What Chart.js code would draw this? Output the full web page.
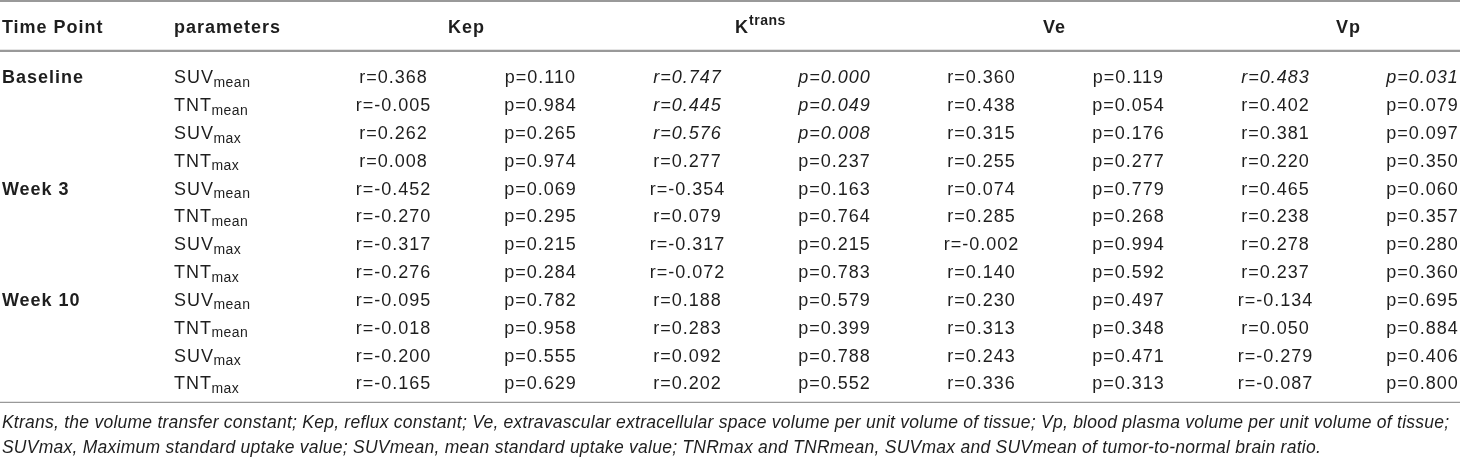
<!DOCTYPE html>
<html>
<head>
<meta charset="utf-8">
<script src="https://cdn.jsdelivr.net/npm/chart.js@4.4.1/dist/chart.umd.min.js"></script>
<style>
  html, body { margin: 0; padding: 0; background: #fff; }
</style>
</head>
<body>
<canvas id="tbl" width="1460" height="459"></canvas>
<script>
// table content
const timePoints = ['Baseline', 'Week 3', 'Week 10'];
const paramNames = ['SUV', 'TNT', 'SUV', 'TNT'];
const paramSubs = ['mean', 'mean', 'max', 'max'];
const groupNames = ['Kep', 'K', 'Ve', 'Vp'];
const groupSups = ['', 'trans', '', ''];

const kepR = [0.368, -0.005, 0.262, 0.008, -0.452, -0.270, -0.317, -0.276, -0.095, -0.018, -0.200, -0.165];
const kepP = [0.110, 0.984, 0.265, 0.974, 0.069, 0.295, 0.215, 0.284, 0.782, 0.958, 0.555, 0.629];
const ktransR = [0.747, 0.445, 0.576, 0.277, -0.354, 0.079, -0.317, -0.072, 0.188, 0.283, 0.092, 0.202];
const ktransP = [0.000, 0.049, 0.008, 0.237, 0.163, 0.764, 0.215, 0.783, 0.579, 0.399, 0.788, 0.552];
const veR = [0.360, 0.438, 0.315, 0.255, 0.074, 0.285, -0.002, 0.140, 0.230, 0.313, 0.243, 0.336];
const veP = [0.119, 0.054, 0.176, 0.277, 0.779, 0.268, 0.994, 0.592, 0.497, 0.348, 0.471, 0.313];
const vpR = [0.483, 0.402, 0.381, 0.220, 0.465, 0.238, 0.278, 0.237, -0.134, 0.050, -0.279, -0.087];
const vpP = [0.031, 0.079, 0.097, 0.350, 0.060, 0.357, 0.280, 0.360, 0.695, 0.884, 0.406, 0.800];

// rows printed in italics (significant)
const ktransItalic = [0, 1, 2];
const kepItalic = [];
const veItalic = [];
const vpItalic = [0];

const footnotes = [
  'Ktrans, the volume transfer constant; Kep, reflux constant; Ve, extravascular extracellular space volume per unit volume of tissue; Vp, blood plasma volume per unit volume of tissue;',
  'SUVmax, Maximum standard uptake value; SUVmean, mean standard uptake value; TNRmax and TNRmean, SUVmax and SUVmean of tumor-to-normal brain ratio.'
];

// layout in row / column units of the scales
const rowsPerTime = 4;
const headerRow = -1.83;
const topRule = -2.73, headRule = -0.94, bottomRule = 11.70;
const footRows = [12.41, 13.31];
const timeCol = -2.66, paramCol = -1.49;

const FONT = '"Liberation Sans", Arial, Helvetica, sans-serif';
const SIZE = 18, SUB = 14, FOOT = 17.5;
const SPACING = '1px', SUB_SPACING = '0.5px', FOOT_SPACING = '0.25px';
const INK = '#1e1e1e', RULE = '#999999';

const series = [
  { vals: kepR, pre: 'r=', ital: kepItalic },
  { vals: kepP, pre: 'p=', ital: kepItalic },
  { vals: ktransR, pre: 'r=', ital: ktransItalic },
  { vals: ktransP, pre: 'p=', ital: ktransItalic },
  { vals: veR, pre: 'r=', ital: veItalic },
  { vals: veP, pre: 'p=', ital: veItalic },
  { vals: vpR, pre: 'r=', ital: vpItalic },
  { vals: vpP, pre: 'p=', ital: vpItalic }
];

const datasets = series.map((s, col) => ({
  label: s.pre + col,
  data: s.vals.map((v, row) => ({ x: col, y: row })),
  pointRadius: 0,
  showLine: false
}));

function capY(y, size) { return y + size * 0.36; }

function setFont(ctx, style, size, spacing) {
  ctx.font = style + size + 'px ' + FONT;
  ctx.letterSpacing = spacing;
}

const tablePlugin = {
  id: 'tableText',
  afterDatasetsDraw(chart) {
    const ctx = chart.ctx;
    const xs = chart.scales.x, ys = chart.scales.y;
    const left = chart.chartArea.left, right = chart.chartArea.right;
    ctx.save();

    // rules
    ctx.strokeStyle = RULE;
    [[topRule, 2], [headRule, 2.2], [bottomRule, 1.2]].forEach(([r, w]) => {
      const y = ys.getPixelForValue(r);
      ctx.lineWidth = w;
      ctx.beginPath();
      ctx.moveTo(left, y);
      ctx.lineTo(right, y);
      ctx.stroke();
    });

    ctx.fillStyle = INK;
    ctx.textBaseline = 'alphabetic';

    // header
    const hy = capY(ys.getPixelForValue(headerRow), SIZE);
    setFont(ctx, 'bold ', SIZE, SPACING);
    ctx.textAlign = 'left';
    ctx.fillText('Time Point', xs.getPixelForValue(timeCol), hy);
    ctx.fillText('parameters', xs.getPixelForValue(paramCol), hy);
    groupNames.forEach((name, g) => {
      const cx = xs.getPixelForValue(2 * g + 0.5);
      setFont(ctx, 'bold ', SIZE, SPACING);
      const w1 = ctx.measureText(name).width;
      setFont(ctx, 'bold ', SUB, SUB_SPACING);
      const w2 = groupSups[g] ? ctx.measureText(groupSups[g]).width : 0;
      const x0 = cx - (w1 + w2) / 2;
      setFont(ctx, 'bold ', SIZE, SPACING);
      ctx.fillText(name, x0, hy);
      if (groupSups[g]) {
        setFont(ctx, 'bold ', SUB, SUB_SPACING);
        ctx.fillText(groupSups[g], x0 + w1, hy - 8);
      }
    });

    // time point and parameter columns
    for (let row = 0; row < timePoints.length * rowsPerTime; row++) {
      const y = capY(ys.getPixelForValue(row), SIZE);
      ctx.textAlign = 'left';
      if (row % rowsPerTime === 0) {
        setFont(ctx, 'bold ', SIZE, SPACING);
        ctx.fillText(timePoints[row / rowsPerTime], xs.getPixelForValue(timeCol), y);
      }
      const k = row % rowsPerTime;
      const px = xs.getPixelForValue(paramCol);
      setFont(ctx, '', SIZE, SPACING);
      ctx.fillText(paramNames[k], px, y);
      const w = ctx.measureText(paramNames[k]).width;
      setFont(ctx, '', SUB, SUB_SPACING);
      ctx.fillText(paramSubs[k], px + w - 0.5, y + 3.5);
    }

    // value cells, placed at the dataset elements
    ctx.textAlign = 'center';
    chart.data.datasets.forEach((ds, i) => {
      const s = series[i];
      chart.getDatasetMeta(i).data.forEach((el, row) => {
        setFont(ctx, s.ital.includes(row) ? 'italic ' : '', SIZE, SPACING);
        ctx.fillText(s.pre + s.vals[row].toFixed(3), el.x + 0.5, capY(el.y, SIZE));
      });
    });

    // footnotes
    ctx.textAlign = 'left';
    setFont(ctx, 'italic ', FOOT, FOOT_SPACING);
    footnotes.forEach((t, i) => {
      ctx.fillText(t, xs.getPixelForValue(timeCol), capY(ys.getPixelForValue(footRows[i]), FOOT));
    });
    ctx.restore();
  }
};

new Chart(document.getElementById('tbl'), {
  type: 'scatter',
  data: { datasets: datasets },
  options: {
    responsive: false,
    animation: false,
    layout: { padding: 0 },
    plugins: { legend: { display: false }, tooltip: { enabled: false } },
    scales: {
      x: { type: 'linear', min: -2.673, max: 7.259, display: false },
      y: { type: 'linear', min: -2.77, max: 13.74, reverse: true, display: false }
    }
  },
  plugins: [tablePlugin]
});
</script>
</body>
</html>
